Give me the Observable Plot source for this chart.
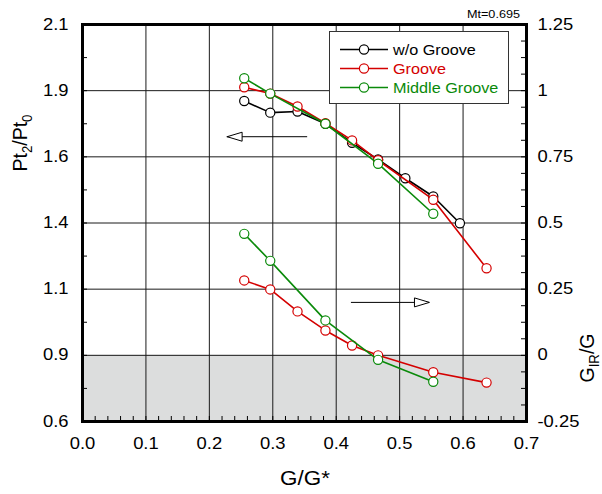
<!DOCTYPE html>
<html><head><meta charset="utf-8">
<script src="https://cdn.jsdelivr.net/npm/d3@7"></script>
<script src="https://cdn.jsdelivr.net/npm/@observablehq/plot@0.6"></script>
<style>body{margin:0;background:#fff} svg{display:block}</style>
</head><body><div id="chart"></div>
<script>
// ---- data ----
const xBlack  = [0.255, 0.296, 0.339, 0.383, 0.425, 0.466, 0.509, 0.553, 0.595];
const prBlack = [1.811, 1.767, 1.771, 1.725, 1.653, 1.590, 1.519, 1.450, 1.349];
const xRed    = [0.255, 0.296, 0.339, 0.383, 0.425, 0.466, 0.553, 0.637];
const prRed   = [1.863, 1.839, 1.790, 1.727, 1.662, 1.587, 1.438, 1.179];
const xGreen  = [0.255, 0.296, 0.383, 0.466, 0.553];
const prGreen = [1.897, 1.839, 1.725, 1.574, 1.385];
// G_IR/G (right axis)
const irRed   = [0.283, 0.249, 0.166, 0.094, 0.037, 0.000, -0.064, -0.103];
const irGreen = [0.459, 0.357, 0.132, -0.017, -0.100];

const seriesNames = ["w/o Groove", "Groove", "Middle Groove"];
const seriesColors = ["#000000", "#d40000", "#0a8a0a"];

// axes
const xTicks = [0, 0.1, 0.2, 0.3, 0.4, 0.5, 0.6, 0.7];
const xTickLabels = ["0.0", "0.1", "0.2", "0.3", "0.4", "0.5", "0.6", "0.7"];
const leftTicks = [0.6, 0.85, 1.1, 1.35, 1.6, 1.85, 2.1];
const leftTickLabels = ["0.6", "0.9", "1.1", "1.4", "1.6", "1.9", "2.1"];
const rightTickLabels = ["-0.25", "0", "0.25", "0.5", "0.75", "1", "1.25"];
const rightOffset = 0.85; // right value = left value - 0.85
const xMinorStep = 0.02, leftMinorStep = 0.125, rightMinorStep = 0.0625;
const shadeBand = [{x1: 0, x2: 0.7, y1: -0.25, y2: 0}]; // right-axis units
const arrows = [
  {x1: 0.355, x2: 0.228, y: 1.676, dir: "left"},
  {x1: 0.424, x2: 0.547, y: 1.050, dir: "right"}
];
const note = "Mt=0.695";

// ---- build tables ----
const upper = [
  xBlack.map((x, i) => ({x, y: prBlack[i], s: 0})),
  xRed.map((x, i) => ({x, y: prRed[i], s: 1})),
  xGreen.map((x, i) => ({x, y: prGreen[i], s: 2}))
];
const lower = [
  xRed.map((x, i) => ({x, y: irRed[i] + rightOffset, s: 1})),
  xGreen.map((x, i) => ({x, y: irGreen[i] + rightOffset, s: 2}))
];
const xMinor = d3.range(0, 0.7 + 1e-9, xMinorStep);
const leftMinor = d3.range(0.6, 2.1 + 1e-9, leftMinorStep);
const rightMinor = d3.range(-0.25, 1.25 + 1e-9, rightMinorStep).map(v => v + rightOffset);

const W = 602, H = 494, mL = 82, mR = 76, mT = 24, mB = 73;
const plotW = W - mL - mR, plotH = H - mT - mB;
const idx = (arr, d) => arr.findIndex(v => Math.abs(v - d) < 1e-9);

const headLeft = {draw(ctx) { ctx.moveTo(0, 0); ctx.lineTo(15, -4.5); ctx.lineTo(15, 4.5); ctx.closePath(); }};
const headRight = {draw(ctx) { ctx.moveTo(0, 0); ctx.lineTo(-15, -4.5); ctx.lineTo(-15, 4.5); ctx.closePath(); }};

const seriesMarks = [];
[[upper[0]], [upper[1], lower[0]], [upper[2], lower[1]]].forEach((group, s) => {
  group.forEach(data => {
    seriesMarks.push(Plot.line(data, {x: "x", y: "y", stroke: seriesColors[s], strokeWidth: 1.6}));
    seriesMarks.push(Plot.dot(data, {x: "x", y: "y", r: 4.6, fill: "white", stroke: seriesColors[s], strokeWidth: 1.2}));
  });
});

const chart = Plot.plot({
  width: W, height: H,
  marginLeft: mL, marginRight: mR, marginTop: mT, marginBottom: mB,
  style: {fontFamily: "'Liberation Sans', Arial, sans-serif", fontSize: "16px", color: "#000", background: "#fff", overflow: "visible"},
  x: {domain: [0, 0.7]},
  y: {domain: [0.6, 2.1]},
  marks: [
    Plot.rect(shadeBand, {x1: "x1", x2: "x2", y1: d => d.y1 + rightOffset, y2: d => d.y2 + rightOffset, fill: "#dcdddd"}),
    Plot.ruleX(xTicks, {stroke: "#1a1a1a", strokeWidth: 1}),
    Plot.ruleY(leftTicks, {stroke: "#1a1a1a", strokeWidth: 1}),
    Plot.tickX(xMinor, {x: d => d, insetTop: plotH - 5, stroke: "#000"}),
    Plot.tickY(leftMinor, {y: d => d, insetRight: plotW - 5, stroke: "#000"}),
    Plot.tickY(rightMinor, {y: d => d, insetLeft: plotW - 5, stroke: "#000"}),
    ...seriesMarks,
    Plot.ruleY(arrows, {x1: "x1", x2: "x2", y: "y", stroke: "#000", strokeWidth: 1}),
    Plot.dot(arrows.filter(a => a.dir === "left"), {x: "x2", y: "y", symbol: headLeft, fill: "white", stroke: "#000", strokeWidth: 1}),
    Plot.dot(arrows.filter(a => a.dir === "right"), {x: "x2", y: "y", symbol: headRight, fill: "white", stroke: "#000", strokeWidth: 1}),
    Plot.axisX({ticks: xTicks, tickFormat: d => xTickLabels[idx(xTicks, d)], tickSize: 0, tickPadding: 16, fontSize: 16, label: null}),
    Plot.axisY({anchor: "left", ticks: leftTicks, tickFormat: d => leftTickLabels[idx(leftTicks, d)], tickSize: 0, tickPadding: 14, fontSize: 16, label: null}),
    Plot.axisY({anchor: "right", ticks: leftTicks, tickFormat: d => rightTickLabels[idx(leftTicks, d)], tickSize: 0, tickPadding: 11, fontSize: 16, label: null}),
    Plot.frame({stroke: "#000", strokeWidth: 3})
  ]
});
document.getElementById("chart").appendChild(chart);

// stretch tick labels horizontally like the reference
function stretchText(el, s) {
  const bb = el.getBBox();
  const anchor = getComputedStyle(el).getPropertyValue("text-anchor");
  const px = anchor === "middle" ? bb.x + bb.width / 2 : anchor === "end" ? bb.x + bb.width : bb.x;
  const t = el.getAttribute("transform") || "";
  el.setAttribute("transform", `${t} translate(${px},0) scale(${s},1) translate(${-px},0)`);
}
chart.querySelectorAll("text").forEach(el => stretchText(el, 1.15));

const svg = d3.select(chart);
const font = "'Liberation Sans', Arial, sans-serif";
function richText(parts, size) {
  return (sel) => {
    parts.forEach(([t, kind]) => {
      const ts = sel.append("tspan").text(t);
      if (kind === "sub") ts.attr("dy", size * 0.25).style("font-size", (size * 0.68) + "px");
      else if (kind === "up") ts.attr("dy", -size * 0.25);
    });
  };
}
// axis titles
svg.append("text").attr("transform", "translate(305,485) scale(1.15,1)")
  .attr("text-anchor", "middle").style("font-family", font).style("font-size", "19.5px").text("G/G*");
svg.append("text").attr("transform", "translate(27,143) scale(1.08,1) rotate(-90)")
  .attr("text-anchor", "middle").style("font-family", font).style("font-size", "19.5px")
  .call(richText([["Pt"], ["2", "sub"], ["/Pt", "up"], ["0", "sub"]], 19.5));
svg.append("text").attr("transform", "translate(594,358) scale(1.08,1) rotate(-90)")
  .attr("text-anchor", "middle").style("font-family", font).style("font-size", "19.5px")
  .call(richText([["G"], ["IR", "sub"], ["/G", "up"]], 19.5));
// note
svg.append("text").attr("transform", "translate(520,18) scale(1.1,1)")
  .attr("text-anchor", "end").style("font-family", font).style("font-size", "11.5px").text(note);
// legend
const lg = svg.append("g");
lg.append("rect").attr("x", 329.5).attr("y", 31.5).attr("width", 179).attr("height", 72)
  .attr("fill", "white").attr("stroke", "#333").attr("stroke-width", 1);
seriesNames.forEach((name, i) => {
  const y = 49.5 + i * 19;
  lg.append("line").attr("x1", 340).attr("x2", 388).attr("y1", y).attr("y2", y)
    .attr("stroke", seriesColors[i]).attr("stroke-width", 1.6);
  lg.append("circle").attr("cx", 364).attr("cy", y).attr("r", 4.6)
    .attr("fill", "white").attr("stroke", seriesColors[i]).attr("stroke-width", 1.2);
  lg.append("text").attr("transform", `translate(393,${y + 5.5}) scale(1.08,1)`)
    .attr("text-anchor", "start").style("font-family", font).style("font-size", "15px")
    .attr("fill", seriesColors[i]).text(name);
});
</script>
</body></html>
